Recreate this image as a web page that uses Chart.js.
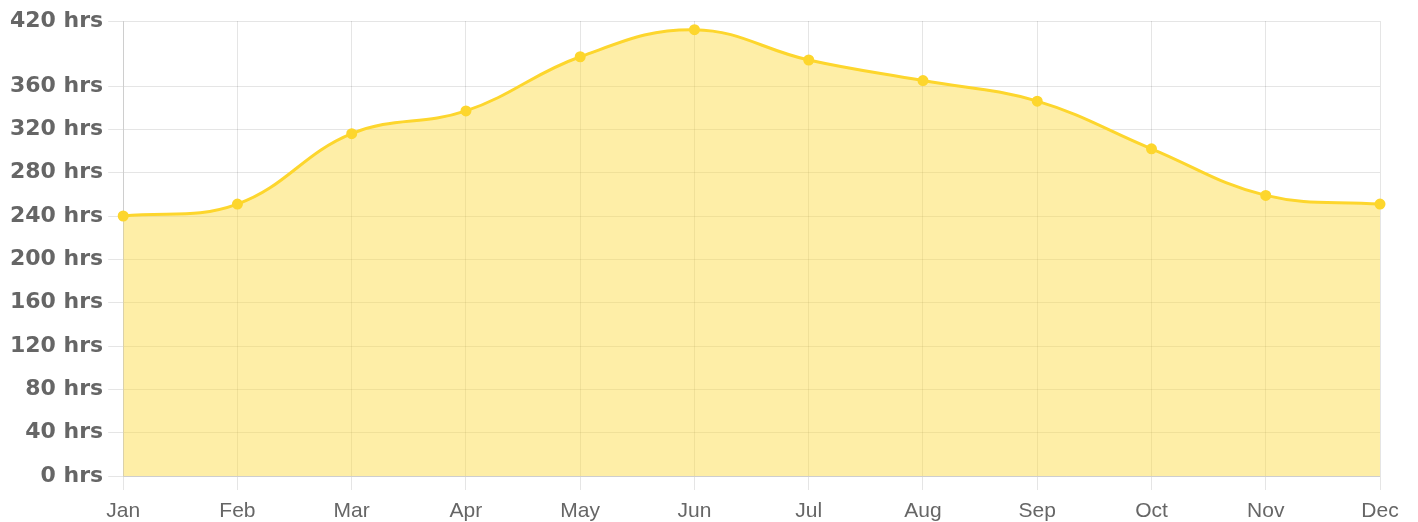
<!DOCTYPE html>
<html>
<head>
<meta charset="utf-8">
<script src="https://cdn.jsdelivr.net/npm/chart.js@4"></script>
<style>
  html, body { margin: 0; padding: 0; background: #fff; }
  #wrap { width: 1418px; height: 522px; }
</style>
</head>
<body>
<div id="wrap"><canvas id="myChart"></canvas></div>
<script>
const MONTHS = ["Jan", "Feb", "Mar", "Apr", "May", "Jun", "Jul", "Aug", "Sep", "Oct", "Nov", "Dec"];
const SUN_HOURS = [240, 251, 316, 337, 387, 412, 384, 365, 346, 302, 259, 251];
const Y_MAX = 420;
const Y_STEP = 40;

const config = {
  type: "line",
  data: {
    labels: MONTHS,
    datasets: [{
      data: SUN_HOURS,
      borderColor: "rgb(253, 214, 45)",
      backgroundColor: "rgba(252, 217, 60, 0.45)",
      pointBackgroundColor: "rgb(253, 214, 45)",
      pointBorderColor: "rgb(253, 214, 45)",
      borderWidth: 3,
      pointRadius: 4,
      tension: 0.4,
      fill: true
    }]
  },
  options: {
    responsive: true,
    maintainAspectRatio: false,
    animation: false,
    layout: { padding: { top: 21, right: 38, left: 5, bottom: -11 } },
    plugins: { legend: { display: false }, tooltip: { enabled: false } },
    scales: {
      x: {
        grid: { color: "rgba(0,0,0,0.1)", tickLength: 14 },
        ticks: { color: "#666", font: { family: "Liberation Sans, Arial", size: 21, lineHeight: 1 }, padding: 11 }
      },
      y: {
        min: 0,
        max: Y_MAX,
        grid: { color: "rgba(0,0,0,0.1)", tickLength: 15 },
        ticks: {
          stepSize: Y_STEP,
          color: "#666",
          padding: 5,
          font: { family: "DejaVu Sans", size: 22, weight: "bold" },
          callback: v => v + " hrs"
        }
      }
    }
  }
};

new Chart(document.getElementById("myChart"), config);
</script>
</body>
</html>
